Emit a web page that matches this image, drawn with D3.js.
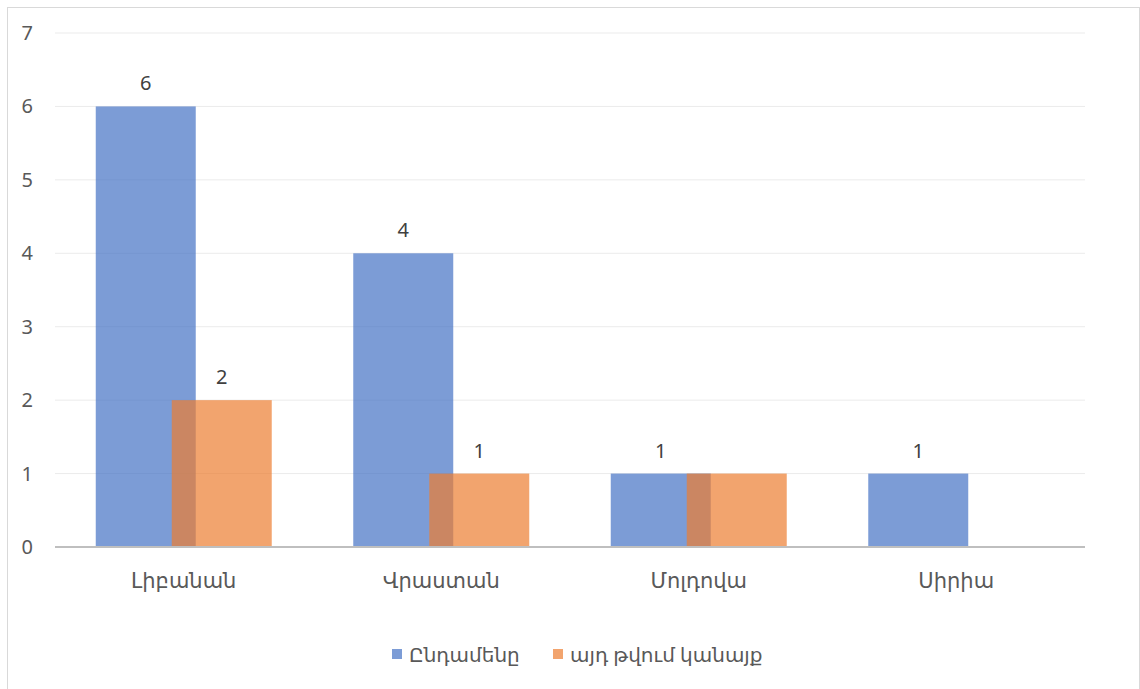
<!DOCTYPE html>
<html>
<head>
<meta charset="utf-8">
<script src="https://cdn.jsdelivr.net/npm/d3@7"></script>
<style>
  body { margin: 0; background: #fff; }
  text { font-family: "Noto Sans", "DejaVu Sans", sans-serif; }
</style>
</head>
<body>
<div id="chart"></div>
<script>
// data
let categories = ['Լիբանան', 'Վրաստան', 'Մոլդովա', 'Սիրիա']
let seriesNames = ['Ընդամենը', 'այդ թվում կանայք']
let totals = [6, 4, 1, 1]
let women = [2, 1, 1, null]
let yTicks = [0, 1, 2, 3, 4, 5, 6, 7]
// the reference hides the women label for Moldova (it overlaps)
let showWomenLabel = [true, true, false, false]

let colors = ['#4472C4', '#ED7D31']

let width = 1140, height = 689
let margin = { left: 55, right: 55, top: 33, bottom: 142 }

let svg = d3.select('#chart').append('svg')
  .attr('width', width)
  .attr('height', height)

// outer frame
svg.append('rect')
  .attr('x', 7.5).attr('y', 7.5)
  .attr('width', width - 8).attr('height', height)
  .attr('fill', 'none')
  .attr('stroke', '#d9d9d9')

let x = d3.scaleBand()
  .domain(categories)
  .range([margin.left, width - margin.right])

let y = d3.scaleLinear()
  .domain([0, 7])
  .range([height - margin.bottom, margin.top])

// gridlines
svg.append('g')
  .selectAll('line')
  .data(yTicks.slice(1))
  .enter().append('line')
  .attr('x1', margin.left)
  .attr('x2', width - margin.right)
  .attr('y1', d => y(d))
  .attr('y2', d => y(d))
  .attr('stroke', '#ebebeb')
  .attr('stroke-width', 1)

// y tick labels
svg.append('g')
  .selectAll('text')
  .data(yTicks)
  .enter().append('text')
  .attr('x', 33)
  .attr('y', d => y(d) + 7)
  .attr('text-anchor', 'end')
  .attr('fill', '#595959')
  .style('font-size', '20px')
  .text(d => d)

// bars: width 100, second series overlaps the first
let barW = 100
let offsets = [-88, -12]
let series = [totals, women]

series.forEach((vals, si) => {
  let rows = categories.map((c, i) => ({ c: c, v: vals[i], i: i })).filter(d => d.v != null)
  svg.append('g')
    .selectAll('rect')
    .data(rows)
    .enter().append('rect')
    .attr('x', d => x(d.c) + x.bandwidth() / 2 + offsets[si])
    .attr('y', d => y(d.v))
    .attr('width', barW)
    .attr('height', d => y(0) - y(d.v))
    .attr('fill', colors[si])
    .attr('fill-opacity', 0.7)

  svg.append('g')
    .selectAll('text')
    .data(rows.filter(d => si == 0 || showWomenLabel[d.i]))
    .enter().append('text')
    .attr('x', d => x(d.c) + x.bandwidth() / 2 + offsets[si] + barW / 2)
    .attr('y', d => y(d.v) - 16)
    .attr('text-anchor', 'middle')
    .attr('fill', '#404040')
    .style('font-size', '20px')
    .text(d => d.v)
})

// x axis baseline
svg.append('line')
  .attr('x1', margin.left)
  .attr('x2', width - margin.right)
  .attr('y1', y(0))
  .attr('y2', y(0))
  .attr('stroke', '#bfbfbf')
  .attr('stroke-width', 2)

// category labels
svg.append('g')
  .selectAll('text')
  .data(categories)
  .enter().append('text')
  .attr('x', d => x(d) + x.bandwidth() / 2)
  .attr('y', y(0) + 41)
  .attr('text-anchor', 'middle')
  .attr('fill', '#595959')
  .style('font-size', '21px')
  .text(d => d)

// legend
let legendX = [392, 553]
let legend = svg.append('g')
seriesNames.forEach((name, i) => {
  legend.append('rect')
    .attr('x', legendX[i])
    .attr('y', 649)
    .attr('width', 10)
    .attr('height', 10)
    .attr('fill', colors[i])
    .attr('fill-opacity', 0.7)
  legend.append('text')
    .attr('x', legendX[i] + 17)
    .attr('y', 662)
    .attr('fill', '#595959')
    .style('font-size', '20px')
    .text(name)
})
</script>
</body>
</html>
